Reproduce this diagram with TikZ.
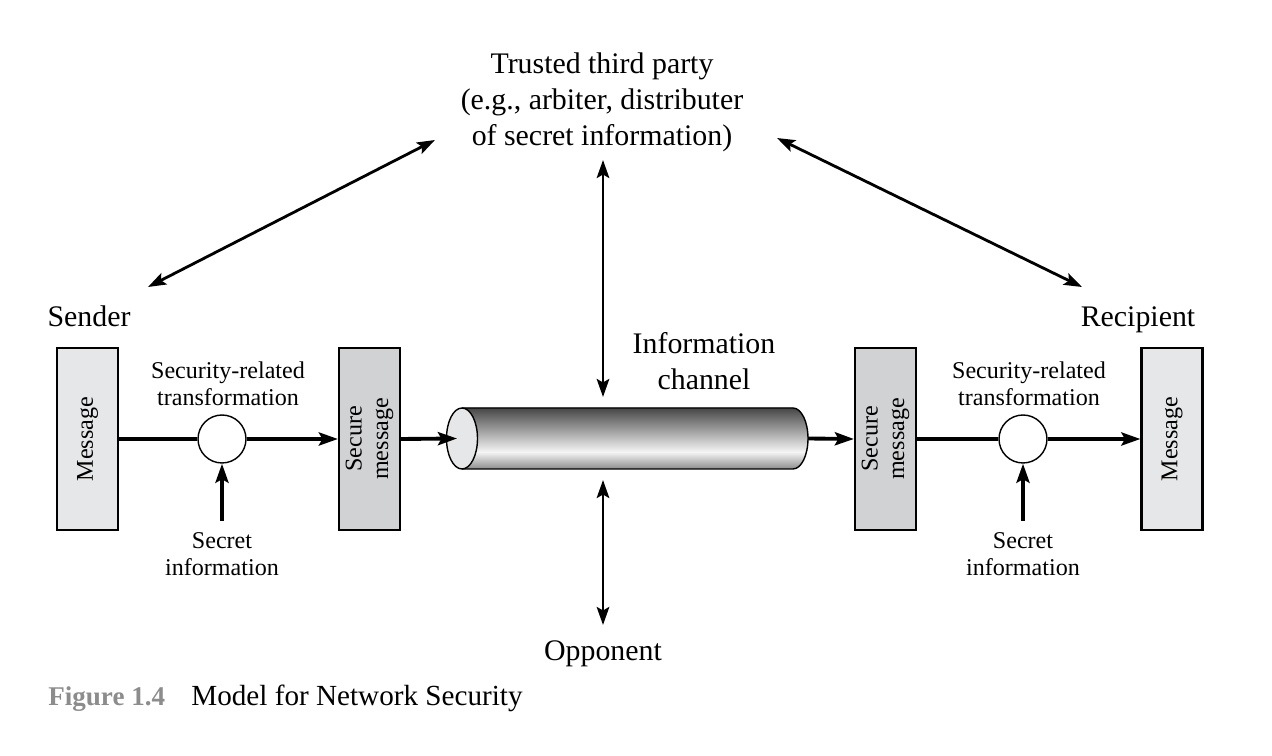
\documentclass[tikz,border=0pt]{standalone}
\usepackage{fontspec}
\setmainfont{Liberation Serif}
\usetikzlibrary{arrows.meta,positioning}

\definecolor{msgfill}{HTML}{E6E7E8}
\definecolor{secfill}{HTML}{D1D2D4}
\definecolor{capgray}{HTML}{8C8C8C}
\pgfdeclareverticalshading{pipeshade}{100bp}{color(0bp)=(black!45); color(25bp)=(black!45); color(39bp)=(black!4); color(75bp)=(black!72); color(100bp)=(black!72)}

\tikzset{
  msgbox/.style={draw, line width=1.2pt, minimum width=1.22cm, minimum height=3.64cm, inner sep=0pt},
  transf/.style={draw, circle, line width=0.8pt, fill=white, minimum size=0.96cm, inner sep=0pt},
  flow/.style={line width=2.2pt, -{Stealth[length=0.38cm, width=0.26cm, inset=0.07cm]}},
  link/.style={line width=1.6pt, {Stealth[length=0.36cm, width=0.25cm, inset=0.07cm]}-{Stealth[length=0.36cm, width=0.25cm, inset=0.07cm]}},
  big/.style={font=\fontsize{17}{20.5}\selectfont, align=center},
  small/.style={font=\fontsize{13.7}{15.2}\selectfont, align=center}
}

\begin{document}
\begin{tikzpicture}[x=0.02cm, y=-0.02cm]
    \useasboundingbox (0,0) rectangle (1272,756);

    % labels
    \node[big] (ttp) at (602,102) {Trusted third party\\(e.g., arbiter, distributer\\of secret information)};
    \node[big, anchor=base] (sender) at (89,327) {Sender};
    \node[big, anchor=base] (recip) at (1138,327) {Recipient};
    \node[big] (chan) at (704,361) {Information\\channel};
    \node[big] (opp) at (603,654) {Opponent};

    % sender side
    \node[msgbox, fill=msgfill] (msg1) at (87.5,439) {};
    \node[small, rotate=90] at (msg1) {Message};
    \node[transf] (tr1) at (222,439) {};
    \node[small] (srl1) at (228,384) {Security-related\\transformation};
    \node[small] (sec1) at (222,554) {Secret\\information};
    \coordinate (key1) at (222,521);
    \node[msgbox, fill=secfill] (smsg1) at (369.5,439) {};
    \node[small, rotate=90] at (smsg1) {Secure\\message};

    % channel
    \fill[shading=pipeshade] (462,408) -- (793,408) arc[start angle=90, end angle=-90, x radius=0.3cm, y radius=0.61cm] -- (462,469) -- cycle;
    \draw[line width=0.8pt] (462,408) -- (793,408) arc[start angle=90, end angle=-90, x radius=0.3cm, y radius=0.61cm] -- (462,469);
    \draw[line width=0.8pt, fill=msgfill] (462,438.5) ellipse[x radius=0.31cm, y radius=0.61cm];
    \coordinate (pipein) at (457,438.5);
    \coordinate (pipeout) at (808,438.5);
    \coordinate (pipetop) at (603,397);
    \coordinate (pipebot) at (603,480);

    % recipient side
    \node[msgbox, fill=secfill] (smsg2) at (885.5,439) {};
    \node[small, rotate=90] at (smsg2) {Secure\\message};
    \node[transf] (tr2) at (1023,439) {};
    \node[small] (srl2) at (1029,384) {Security-related\\transformation};
    \node[small] (sec2) at (1023,554) {Secret\\information};
    \coordinate (key2) at (1023,521);
    \node[msgbox, fill=msgfill] (msg2) at (1172,439) {};
    \node[small, rotate=90] at (msg2) {Message};

    % connectors
    \draw[line width=2.2pt] (msg1.east) -- (tr1.west);
    \draw[flow] (tr1.east) -- (smsg1.west);
    \draw[flow] (smsg1.east) -- (pipein);
    \draw[flow] (pipeout) -- (smsg2.west);
    \draw[line width=2.2pt] (smsg2.east) -- (tr2.west);
    \draw[flow] (tr2.east) -- (msg2.west);
    \draw[flow] (key1) -- (tr1.south);
    \draw[flow] (key2) -- (tr2.south);

    \coordinate (ttpl) at (435,140);
    \coordinate (ttpr) at (777,138);
    \coordinate (ttpb) at (603,160);
    \coordinate (sendr) at (148,287);
    \coordinate (recipl) at (1082,287);
    \coordinate (oppt) at (603,625);
    \draw[link] (sendr) -- (ttpl);
    \draw[link] (ttpr) -- (recipl);
    \draw[link] (ttpb) -- (pipetop);
    \draw[link] (pipebot) -- (oppt);

    % caption
    \node[font=\fontsize{15.4}{18}\selectfont\bfseries, text=capgray, anchor=base west, inner sep=0pt] (fig) at (48,706) {Figure 1.4};
    \node[font=\fontsize{16.6}{20}\selectfont, anchor=base west, inner sep=0pt] (title) at (191,706) {Model for Network Security};
\end{tikzpicture}
\end{document}
